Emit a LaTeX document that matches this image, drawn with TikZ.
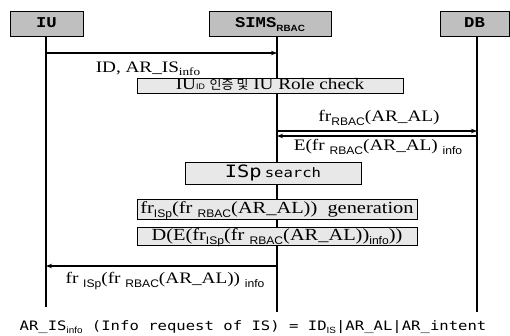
\documentclass[tikz,border=0pt]{standalone}
\usepackage{fontspec}
\usetikzlibrary{arrows.meta}
\setmainfont[FakeStretch=1.2]{Liberation Serif}
\newfontfamily\hdfont[FakeStretch=1.15]{Liberation Mono}
\newfontfamily\sansf[FakeStretch=1.1]{Liberation Sans}
\newfontfamily\monof[FakeStretch=1.2]{DejaVu Sans Mono}
\newfontfamily\krfont{Noto Sans CJK KR}
\newcommand\lowsans[2][11]{\raisebox{-0.25em}{\sansf\fontsize{#1}{#1}\selectfont #2}}
\newcommand\lowserif[2][11]{\raisebox{-0.2em}{\fontsize{#1}{#1}\selectfont #2}}
\newcommand\lowmono[2][9]{\raisebox{-0.28em}{\sansf\fontsize{#1}{#1}\selectfont #2}}
\begin{document}
\begin{tikzpicture}[x=1pt,y=-1pt,
  head/.style={draw=black, line width=0.8pt, fill=gray!50, inner sep=0pt,
    font=\hdfont\bfseries\fontsize{15}{15}\selectfont, text height=9pt, text depth=1pt},
  procbox/.style={draw=black, line width=0.8pt, fill=gray!18, inner sep=0pt,
    text height=10pt, text depth=2pt},
  life/.style={line width=1.1pt, draw=black},
  msg/.style={line width=1.1pt, draw=black, -{Stealth[length=6pt,width=4.5pt]}},
  lbl/.style={inner sep=0pt, anchor=base, font=\fontsize{16}{16}\selectfont}]
\useasboundingbox (0,0) rectangle (510,335);
% headers
\node[head, minimum width=73pt, minimum height=25pt] (iu) at (46.5,23.5) {IU};
\node[head, minimum width=122pt, minimum height=25pt] (sims) at (270,23.5) {SIMS\lowsans[9]{\bfseries RBAC}};
\node[head, minimum width=69pt, minimum height=25pt] (db) at (474.5,23.5) {DB};
% lifeline ends
\coordinate (iuB) at (46,307);
\coordinate (smB) at (277,312);
\coordinate (dbB) at (477,312);
\draw[life] (iu.south -| iuB) -- (iuB);
\draw[life] (sims.south -| smB) -- (smB);
\draw[life] (db.south -| dbB) -- (dbB);
% message anchor points
\coordinate (m1a) at (46,53);  \coordinate (m1b) at (277,53);
\coordinate (m2a) at (277,131); \coordinate (m2b) at (477,131);
\coordinate (m3a) at (477,136); \coordinate (m3b) at (277,136);
\coordinate (m4a) at (277,266); \coordinate (m4b) at (46,266);
\draw[msg] (m1a) -- (m1b);
\draw[msg] (m2a) -- (m2b);
\draw[msg] (m3a) -- (m3b);
\draw[msg] (m4a) -- (m4b);
% labels
\node[lbl] (l1) at (148,72) {ID, AR\_IS\lowserif{info}};
\node[lbl] (l2) at (379,121) {fr\lowsans{RBAC}(AR\_AL)};
\node[lbl] (l3) at (378,150) {E(fr \lowsans{RBAC}(AR\_AL) \lowsans{info}};
\node[lbl] (l4) at (165,283) {fr \lowsans{ISp}(fr \lowsans{RBAC}(AR\_AL)) \lowsans{info}};
% process boxes
\node[procbox, minimum width=266pt, minimum height=15pt, text height=9.5pt, text depth=2pt,
  font=\fontsize{16}{16}\selectfont] (auth) at (270,85.5)
  {IU{\sansf\fontsize{8}{8}\selectfont ID} {\krfont\fontsize{13}{13}\selectfont 인증 및} IU Role check};
\node[procbox, minimum width=176pt, minimum height=22pt] (isp) at (273,173)
  {{\monof\fontsize{17}{17}\selectfont ISp} {\monof\fontsize{13}{13}\selectfont search}};
\node[procbox, minimum width=280pt, minimum height=20pt, font=\fontsize{17}{17}\selectfont] (gen) at (277,209)
  {fr\lowsans{ISp}(fr \lowsans{RBAC}(AR\_AL))~~generation};
\node[procbox, minimum width=280pt, minimum height=18pt, font=\fontsize{17}{17}\selectfont] (dec) at (277,236)
  {D(E(fr\lowsans{ISp}(fr \lowsans{RBAC}(AR\_AL))\lowsans{info}))};
% bottom note
\node[inner sep=0pt, anchor=base, font=\monof\fontsize{13}{13}\selectfont] (note) at (253,330)
  {AR\_IS\lowmono{info} (Info request of IS) = ID\lowmono{IS}|AR\_AL|AR\_intent};
\end{tikzpicture}
\end{document}
